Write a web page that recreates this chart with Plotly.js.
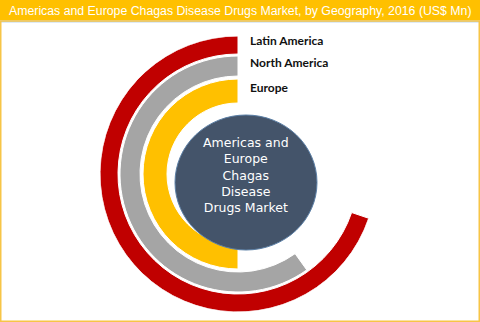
<!DOCTYPE html>
<html>
<head>
<meta charset="utf-8">
<script src="https://cdn.plot.ly/plotly-3.0.1.min.js"></script>
<style>html,body{margin:0;padding:0;background:#fff;}#chart{width:480px;height:322px;}</style>
</head>
<body>
<div id="chart"></div>
<script>
// Data (sweep of each ring as % of a full circle)
const regions = ['Latin America', 'North America', 'Europe'];
const sweepPercent = [69.8, 59.9, 50.0];
const colors = ['#C00000', '#A5A5A5', '#FFC000'];
const chartTitle = 'Americas and Europe Chagas Disease Drugs Market, by Geography, 2016 (US$ Mn)';
const centerLabel = 'Americas and<br>Europe<br>Chagas<br>Disease<br>Drugs Market';

// ring geometry (radial units = pixels at this size)
const ringInner = [120, 98, 71];
const ringOuter = [138, 118, 95];

const W = 480, H = 322;
const cx = 238, cy = 174, R = 138;
const px = x => x / W;
const py = y => 1 - y / H;

const traces = regions.map((name, i) => {
  const deg = sweepPercent[i] * 3.6;
  return {
    type: 'barpolar',
    name: name,
    theta: [deg / 2],
    width: [deg],
    base: [ringInner[i]],
    r: [ringOuter[i] - ringInner[i]],
    marker: {color: colors[i], line: {color: '#ffffff', width: 1}},
    hoverinfo: 'name'
  };
});

const labelY = [41, 63, 87];
const annotations = regions.map((name, i) => ({
  xref: 'paper', yref: 'paper', x: px(248), y: py(labelY[i]),
  xanchor: 'left', yanchor: 'middle', showarrow: false,
  text: '<b>' + name + '</b>',
  font: {family: 'Lato, Carlito, sans-serif', size: 12, color: '#111111'}
}));
annotations.push({
  xref: 'paper', yref: 'paper', x: px(246), y: py(175.5),
  xanchor: 'center', yanchor: 'middle', showarrow: false,
  text: centerLabel, align: 'center',
  font: {family: 'DejaVu Sans, Verdana, sans-serif', size: 12.5, color: '#ffffff'}
});
annotations.push({
  xref: 'paper', yref: 'paper', x: 0.5, y: py(10.5),
  xanchor: 'center', yanchor: 'middle', showarrow: false,
  text: chartTitle,
  font: {family: 'Liberation Sans, Arial, sans-serif', size: 12.3, color: '#ffffff'}
});

const layout = {
  width: W, height: H,
  margin: {l: 0, r: 0, t: 0, b: 0},
  paper_bgcolor: '#ffffff',
  showlegend: false,
  barmode: 'overlay',
  polar: {
    domain: {x: [px(cx - R), px(cx + R)], y: [py(cy + R), py(cy - R)]},
    bgcolor: 'rgba(0,0,0,0)',
    radialaxis: {range: [0, R], visible: false, showgrid: false},
    angularaxis: {visible: false, showgrid: false, direction: 'counterclockwise', rotation: 90, thetaunit: 'degrees'}
  },
  shapes: [
    {type: 'rect', xref: 'paper', yref: 'paper', x0: 0, x1: 1, y0: py(20.5), y1: 1, fillcolor: '#FFC000', line: {width: 0}, layer: 'below'},
    {type: 'line', xref: 'paper', yref: 'paper', x0: 0, x1: 1, y0: py(21.5), y1: py(21.5), line: {color: '#BDD7EE', width: 2}, layer: 'below'},
    {type: 'rect', xref: 'paper', yref: 'paper', x0: px(0.75), x1: px(479.25), y0: py(321.25), y1: py(21), fillcolor: 'rgba(0,0,0,0)', line: {color: '#F7C547', width: 1.5}},
    {type: 'circle', xref: 'paper', yref: 'paper', x0: px(175), x1: px(317), y0: py(250), y1: py(115), fillcolor: '#44546A', line: {color: '#5B7FA6', width: 1}, layer: 'above'}
  ],
  annotations: annotations
};

Plotly.newPlot('chart', traces, layout, {staticPlot: true, displayModeBar: false});
</script>
</body>
</html>
